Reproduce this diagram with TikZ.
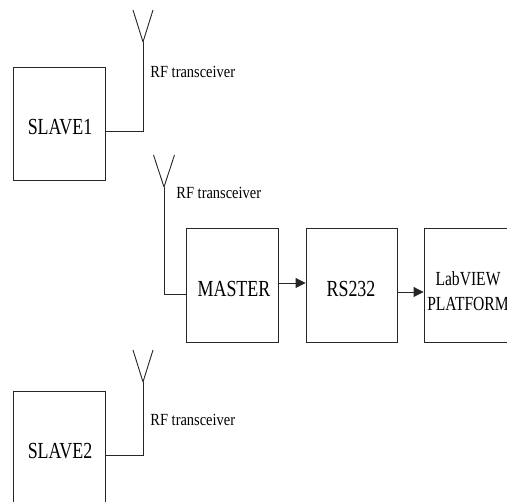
\documentclass[tikz,border=0pt]{standalone}
\usepackage{fontspec}
\setmainfont{Liberation Serif}
\usetikzlibrary{arrows.meta}
% horizontally condensed text, as in the block labels
\newcommand{\narrowtext}[2][0.78]{\scalebox{#1}[1]{#2}}
\begin{document}
\begin{tikzpicture}[x=1pt,y=-1pt,
  line width=0.9pt, draw=black!85,
  block/.style={draw, minimum width=92pt, minimum height=114pt, inner sep=0pt},
  bigtext/.style={font=\fontsize{23}{25}\selectfont, inner sep=0pt},
  smalltext/.style={font=\fontsize{17}{19}\selectfont, inner sep=0pt, anchor=west},
  labtext/.style={font=\fontsize{20}{25}\selectfont, inner sep=0pt, align=center},
  flow/.style={-{Triangle[length=10pt,width=10pt]}}]
\clip (0,0) rectangle (507,502);
\fill[white] (0,0) rectangle (507,502);

% blocks
\node[block, minimum height=113pt] (slave1) at (59,123.5) {};
\node[bigtext] (slave1txt) at (60,127) {\narrowtext{SLAVE1}};
\node[block, minimum height=113pt] (slave2) at (59,447.5) {};
\node[bigtext] (slave2txt) at (60,451) {\narrowtext{SLAVE2}};
\node[block] (master) at (232,285) {};
\node[bigtext] (mastertxt) at (234,289) {\narrowtext{MASTER}};
\node[block, minimum width=91pt] (rs) at (351.5,285) {};
\node[bigtext] (rstxt) at (351,289) {\narrowtext{RS232}};
\node[block] (lab) at (470,285) {};
\node[labtext] (labtxt) at (468,291) {\narrowtext{LabVIEW}\\\narrowtext{PLATFORM}};

% antennas: apex and mast ports
\coordinate (ant1) at (143,42);
\coordinate (ant2) at (164,187);
\coordinate (ant3) at (143,382);
\coordinate (p1) at (105,131);
\coordinate (p2) at (186,294);
\coordinate (p3) at (105,455);
\draw (ant1) -- ++(-10,-32) (ant1) -- ++(10,-32);
\draw (ant2) -- ++(-10.5,-32) (ant2) -- ++(10.5,-32);
\draw (ant3) -- ++(-10,-32) (ant3) -- ++(10,-32);
\draw (p1) -| (ant1);
\draw (p2) -| (ant2);
\draw (p3) -| (ant3);

\node[smalltext] (rf1) at (150,72) {\narrowtext[0.85]{RF transceiver}};
\node[smalltext] (rf2) at (176,193) {\narrowtext[0.85]{RF transceiver}};
\node[smalltext] (rf3) at (150,420) {\narrowtext[0.85]{RF transceiver}};

% data path
\draw[flow] ([yshift=2pt]master.east) -- ([yshift=2pt]rs.west);
\draw[flow] ([yshift=-7pt]rs.east) -- ([yshift=-7pt]lab.west);
\end{tikzpicture}
\end{document}
